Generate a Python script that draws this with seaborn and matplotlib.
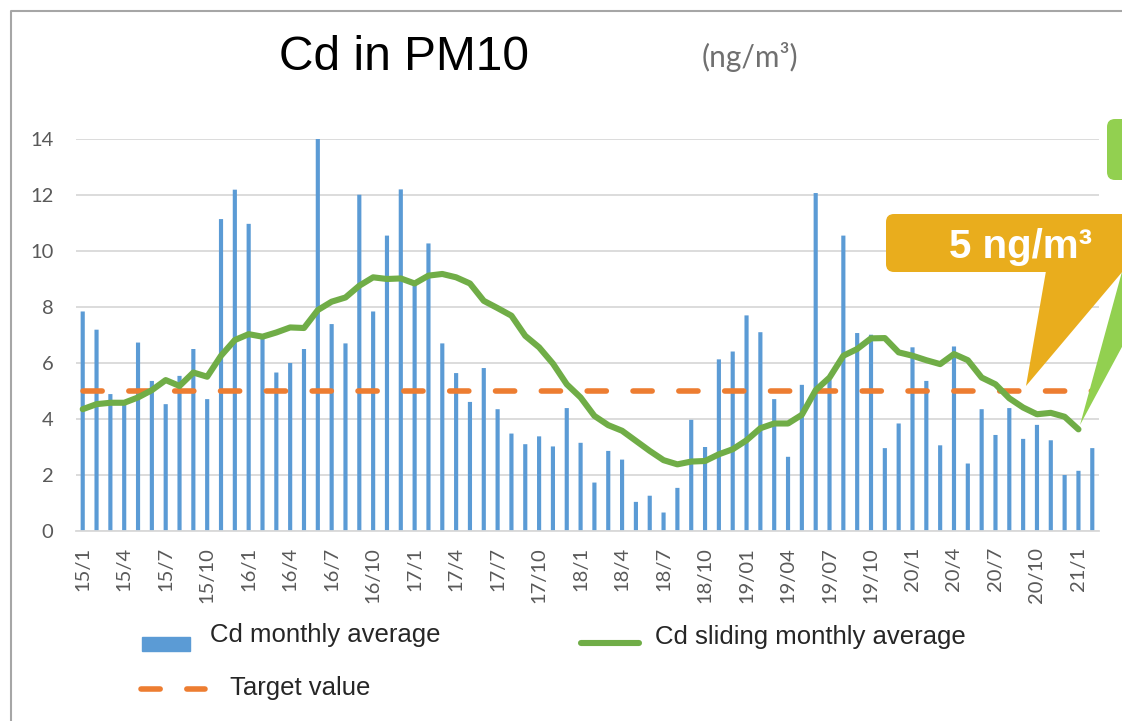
import matplotlib
matplotlib.use("Agg")
import matplotlib.pyplot as plt
import seaborn as sns
import numpy as np
import pandas as pd
from matplotlib.patches import FancyBboxPatch, Polygon, Rectangle
from matplotlib.lines import Line2D
from matplotlib.transforms import Affine2D
from matplotlib import font_manager

# ---- data ----
YEARS = ["15", "16", "17", "18", "19", "20", "21"]
MONTH_NUMS = list(range(1, 13))
MONTHS = [f"{y}/{m}" for y in YEARS for m in MONTH_NUMS][:74]   # 15/1 ... 21/2

MONTHLY = [7.84, 7.19, 4.89, 4.55, 6.73, 5.36, 4.53, 5.54, 6.50, 4.71, 11.14, 12.19, 10.97,
           6.91, 5.66, 6.00, 6.50, 14.00, 7.39, 6.70, 12.01, 7.84, 10.55, 12.20, 8.85, 10.27,
           6.70, 5.64, 4.61, 5.82, 4.35, 3.48, 3.10, 3.38, 3.02, 4.39, 3.15, 1.73, 2.86,
           2.55, 1.04, 1.26, 0.66, 1.54, 3.97, 3.00, 6.13, 6.41, 7.70, 7.10, 4.71, 2.65,
           5.22, 12.07, 5.40, 10.55, 7.07, 7.01, 2.96, 3.84, 6.56, 5.36, 3.06, 6.59, 2.41,
           4.35, 3.43, 4.39, 3.29, 3.79, 3.24, 2.00, 2.15, 2.96]

SLIDING = [4.35, 4.53, 4.58, 4.58, 4.77, 5.03, 5.39, 5.18, 5.66, 5.51, 6.26, 6.82, 7.03,
           6.94, 7.09, 7.27, 7.25, 7.89, 8.19, 8.34, 8.76, 9.06, 9.00, 9.02, 8.84, 9.12,
           9.18, 9.06, 8.84, 8.22, 7.96, 7.69, 6.97, 6.56, 5.98, 5.24, 4.77, 4.11, 3.78,
           3.58, 3.22, 2.86, 2.53, 2.38, 2.48, 2.50, 2.74, 2.92, 3.24, 3.67, 3.84, 3.84,
           4.15, 5.03, 5.48, 6.26, 6.50, 6.88, 6.89, 6.38, 6.26, 6.10, 5.96, 6.32, 6.10,
           5.48, 5.24, 4.74, 4.41, 4.17, 4.22, 4.08, 3.63]

TARGET = 5.0

TICK_LABELS = ["15/1", "15/4", "15/7", "15/10", "16/1", "16/4", "16/7", "16/10",
               "17/1", "17/4", "17/7", "17/10", "18/1", "18/4", "18/7", "18/10",
               "19/01", "19/04", "19/07", "19/10", "20/1", "20/4", "20/7", "20/10", "21/1"]
Y_TICKS = [0, 2, 4, 6, 8, 10, 12, 14]

BLUE = "#5B9BD5"
GREEN = "#70AD47"
ORANGE = "#ED7D31"
GREY_TXT = "#595959"

sns.set_theme(style="white")
plt.rcParams["font.family"] = ["Liberation Sans", "DejaVu Sans"]

# condensed font for the legend if there is one
try:
    font_manager.findfont(font_manager.FontProperties(family="Liberation Sans Narrow"),
                          fallback_to_default=False)
    leg_family, leg_size = ["Liberation Sans Narrow", "DejaVu Sans"], 22
except ValueError:
    leg_family, leg_size = ["Liberation Sans", "DejaVu Sans"], 18.5
tick_family = ["Lato", "DejaVu Sans"]

W, H = 1122, 721
fig = plt.figure(figsize=(W / 100, H / 100), dpi=100)
# pixel coordinates with y going down, like the picture
pix = Affine2D().scale(1 / W, -1 / H).translate(0, 1) + fig.transFigure

ax = fig.add_axes([75.8 / W, 1 - 531 / H, (1099.2 - 75.8) / W, 392 / H])

df = pd.DataFrame({"month": MONTHS, "cd": MONTHLY})
sns.barplot(data=df, x="month", y="cd", color=BLUE, saturation=1, width=0.3,
            errorbar=None, linewidth=0, snap=False, ax=ax, zorder=2)

xs = np.arange(len(MONTHLY))
sns.lineplot(x=xs, y=[TARGET] * len(MONTHLY), color=ORANGE, linewidth=4,
             linestyle=(0, (3.45, 4.8)), dash_capstyle="round", ax=ax, zorder=3)
sns.lineplot(x=np.arange(len(SLIDING)), y=SLIDING, color=GREEN, linewidth=4.4,
             solid_joinstyle="round", solid_capstyle="round", ax=ax, zorder=4)

ax.set_xlim(-0.5, len(MONTHLY) - 0.5)
ax.set_ylim(0, 14)
ax.set_xticks(np.arange(0, len(MONTHLY), 3))
ax.set_xticklabels(TICK_LABELS, rotation=90, fontsize=14.5, color=GREY_TXT,
                   family=tick_family)
ax.set_yticks(Y_TICKS)
ax.set_yticklabels([str(v) for v in Y_TICKS], fontsize=14.5, color=GREY_TXT,
                   family=tick_family)
ax.tick_params(axis="x", length=0, pad=11.5)
ax.tick_params(axis="y", length=0, pad=16)
ax.set_xlabel("")
ax.set_ylabel("")
ax.yaxis.grid(True, color="#D9D9D9", linewidth=1.3)
ax.set_axisbelow(True)
for s in ["top", "right", "left"]:
    ax.spines[s].set_visible(False)
ax.spines["bottom"].set_color("#D9D9D9")
ax.spines["bottom"].set_linewidth(1.3)
ax.set_facecolor("none")

# title and unit
fig.text(404 / W, 1 - 70 / H, "Cd in PM10", ha="center", va="baseline", fontsize=34.5,
         color="black")
fig.text(750 / W, 1 - 57 / H, "(ng/m³)", ha="center", va="center", fontsize=21.5,
         color="#707070", family=["Lato", "DejaVu Sans"])

# outer frame
fig.add_artist(Line2D([11, 11, 1130], [730, 11, 11], transform=pix, color="#A6A6A6",
                      linewidth=1.5))

# legend, drawn by hand
fig.add_artist(Rectangle((142, 637), 48, 14, transform=pix, color=BLUE))
fig.text(210 / W, 1 - 635 / H, "Cd monthly average", ha="left", va="center",
         fontsize=leg_size, family=leg_family)
fig.add_artist(Line2D([581, 639], [643, 643], transform=pix, color=GREEN, linewidth=4.4))
fig.text(655 / W, 1 - 637 / H, "Cd sliding monthly average", ha="left", va="center",
         fontsize=leg_size, family=leg_family)
fig.add_artist(Line2D([140.8, 205.3], [689, 689], transform=pix, color=ORANGE, linewidth=4,
                      linestyle=(0, (3.45, 4.8)), dash_capstyle="round"))
fig.text(230 / W, 1 - 688 / H, "Target value", ha="left", va="center",
         fontsize=leg_size, family=leg_family)

# callouts at the right edge
fig.add_artist(Polygon([(1080, 425), (1123, 268), (1123, 345)], closed=True, transform=pix,
                       facecolor="#92D050", edgecolor="none", zorder=5))
fig.add_artist(FancyBboxPatch((1107, 119), 40, 61, boxstyle="round,pad=0,rounding_size=8",
                              transform=pix, facecolor="#92D050", edgecolor="none", zorder=5))
fig.add_artist(Polygon([(1046, 271), (1026, 386), (1123, 271)], closed=True, transform=pix,
                       facecolor="#E9AD1D", edgecolor="none", zorder=6))
fig.add_artist(FancyBboxPatch((886, 214), 260, 58, boxstyle="round,pad=0,rounding_size=8",
                              transform=pix, facecolor="#E9AD1D", edgecolor="none", zorder=6))
fig.text(949 / W, 1 - 258 / H, "5 ng/m³", ha="left", va="baseline", fontsize=29,
         fontweight="bold", color="white", zorder=7)

fig.savefig("out.png", dpi=100, facecolor="white")
